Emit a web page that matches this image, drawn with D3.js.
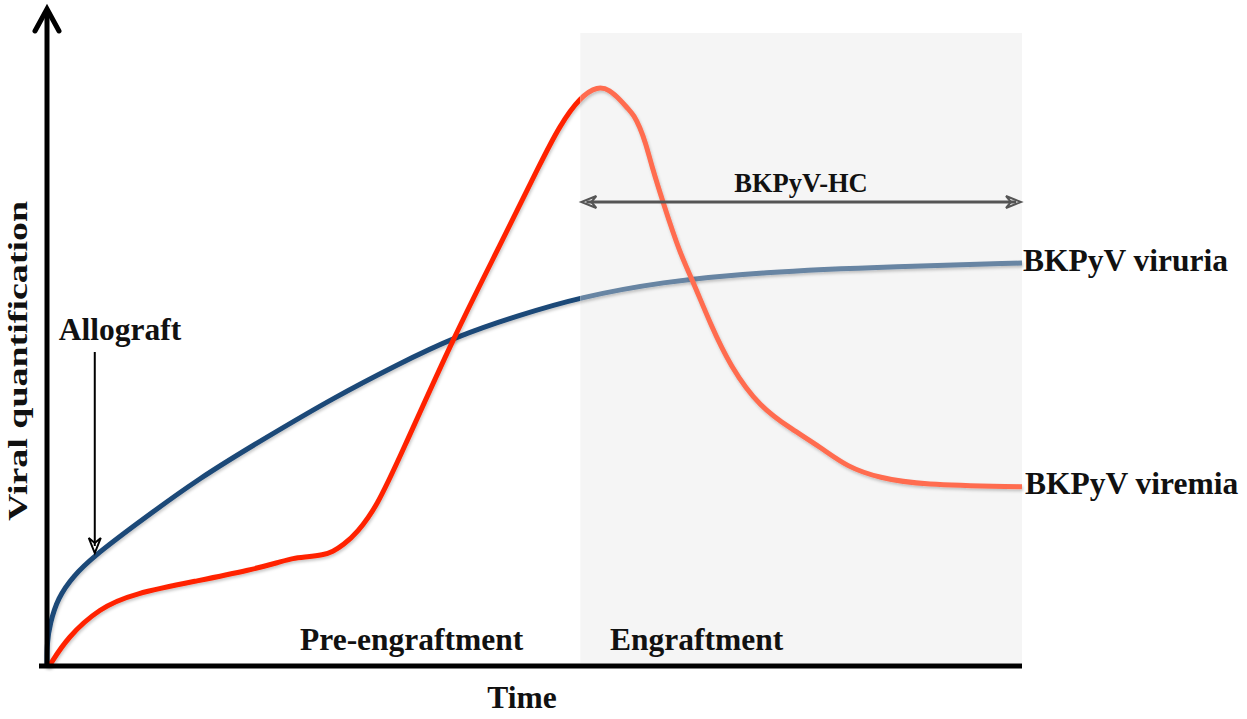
<!DOCTYPE html>
<html>
<head>
<meta charset="utf-8">
<script src="https://cdn.jsdelivr.net/npm/d3@7"></script>
<style>
  body { margin: 0; background: #fff; }
  text { font-family: "Liberation Serif", "Times New Roman", serif; font-weight: bold; fill: #111; }
</style>
</head>
<body>
<div id="chart"></div>
<script>

// phases on the time axis (time in % of the follow up)
var phase_names = ["Pre-engraftment", "Engraftment"]
var phase_bounds = [0, 54.7, 100]
var allograft_time = 4.9
var hc_label = "BKPyV-HC"

// BKPyV viruria (urine) curve
var viruria_time = [0, 0, 0.3, 1.1, 2.7, 4.8, 8.8, 15.7, 22.6, 29.3, 35.9, 41.8, 48.5, 54.7, 62.9, 73.1, 87.5, 100]
var viruria_level = [0, 3.5, 6.5, 10.6, 14.1, 17.2, 21.9, 29.7, 36.1, 42.2, 47.5, 51.9, 55.4, 58.2, 60.6, 62.2, 63.1, 63.6]

// BKPyV viremia (blood) curve
var viremia_time = [0.3, 2.1, 5.4, 8.8, 15.7, 20.8, 23.9, 25.2, 26.7, 28.3, 29.3, 30.4, 31.8, 33.8, 36.2,
                    41.8, 46.5, 50.6, 52.6, 54.7, 56.5, 57.7, 58.8, 59.6, 60.2, 60.8, 61.4, 62.0, 63.2,
                    64.9, 66.2, 68.0, 70.1, 73.1, 76.5, 79.3, 82.1, 85.4, 89.5, 100]
var viremia_level = [0, 4.4, 9.0, 11.3, 13.4, 15.0, 16.3, 16.9, 17.1, 17.4, 17.9, 19.0, 20.9, 25.0, 32.9,
                     52.2, 66.5, 79.4, 85.4, 89.9, 91.6, 91.0, 89.4, 88.0, 87.0, 85.1, 82.6, 79.1, 73.1,
                     65.2, 60.9, 54.1, 47.2, 40.8, 37.2, 34.5, 31.3, 29.6, 28.5, 28.2]

var series_names = ["BKPyV viruria", "BKPyV viremia"]


var width = 1247
var height = 719

var svg = d3.select("#chart").append("svg")
  .attr("width", width)
  .attr("height", height)

var x = d3.scaleLinear().domain([0, 100]).range([47, 1022])
var y = d3.scaleLinear().domain([0, 100]).range([665, 33])

var defs = svg.append("defs")

// soft shadow under the curves
var shadow = defs.append("filter")
  .attr("id", "shadow")
  .attr("x", "-5%").attr("y", "-5%")
  .attr("width", "110%").attr("height", "110%")
shadow.append("feDropShadow")
  .attr("dx", 1).attr("dy", 2)
  .attr("stdDeviation", 1.5)
  .attr("flood-color", "#000")
  .attr("flood-opacity", 0.22)

// clip paths for the part before / after engraftment
defs.append("clipPath").attr("id", "clip-pre")
  .append("rect")
  .attr("x", 0).attr("y", 0)
  .attr("width", x(phase_bounds[1])).attr("height", height)

defs.append("clipPath").attr("id", "clip-post")
  .append("rect")
  .attr("x", x(phase_bounds[1])).attr("y", 0)
  .attr("width", width - x(phase_bounds[1])).attr("height", height)


// shaded engraftment region
svg.append("rect")
  .attr("x", x(phase_bounds[1]))
  .attr("y", y(100))
  .attr("width", x(phase_bounds[2]) - x(phase_bounds[1]))
  .attr("height", y(0) - y(100) - 2)
  .style("fill", "#f5f5f5")


// draw one curve, strong before engraftment and faded after
function draw_curve(times, levels, color_pre, color_post){

  var pts = times.map(function(t, i){ return [t, levels[i]] })

  var line = d3.line()
    .x(function(d){ return x(d[0]) })
    .y(function(d){ return y(d[1]) })
    .curve(d3.curveBasis)

  svg.append("path")
    .datum(pts)
    .attr("d", line)
    .attr("clip-path", "url(#clip-pre)")
    .attr("filter", "url(#shadow)")
    .style("fill", "none")
    .style("stroke", color_pre)
    .style("stroke-width", 5)
    .style("stroke-linecap", "round")

  svg.append("path")
    .datum(pts)
    .attr("d", line)
    .attr("clip-path", "url(#clip-post)")
    .attr("filter", "url(#shadow)")
    .style("fill", "none")
    .style("stroke", color_post)
    .style("stroke-width", 5)
    .style("stroke-linecap", "butt")
}

draw_curve(viruria_time, viruria_level, "#1b4878", "#6885a3")
draw_curve(viremia_time, viremia_level, "#ff2400", "#ff6c50")


// open arrow head pointing in direction (dx, dy)
function arrow_head(px, py, dx, dy, color){
  var len = 15, half = 6, notch = 10
  var nx = -dy, ny = dx
  var p = [
    [px - dx * len + nx * half, py - dy * len + ny * half],
    [px, py],
    [px - dx * len - nx * half, py - dy * len - ny * half],
    [px - dx * notch, py - dy * notch]
  ]
  svg.append("path")
    .attr("d", "M" + p.map(function(d){ return d.join(",") }).join("L") + "Z")
    .style("fill", "#fff")
    .style("fill-opacity", 0)
    .style("stroke", color)
    .style("stroke-width", 2)
    .style("stroke-linejoin", "miter")
}


// axes
svg.append("line")
  .attr("x1", 39).attr("x2", x(100))
  .attr("y1", 666).attr("y2", 666)
  .style("stroke", "#000")
  .style("stroke-width", 5)

svg.append("line")
  .attr("x1", x(0)).attr("x2", x(0))
  .attr("y1", 668).attr("y2", 10)
  .style("stroke", "#000")
  .style("stroke-width", 5)

svg.append("path")
  .attr("d", "M" + (x(0) - 12) + ",31L" + x(0) + ",9L" + (x(0) + 12) + ",31")
  .style("fill", "none")
  .style("stroke", "#000")
  .style("stroke-width", 5)
  .style("stroke-linecap", "round")
  .style("stroke-linejoin", "miter")


// axis titles
svg.append("text")
  .attr("transform", "translate(27, 361) rotate(-90)")
  .attr("text-anchor", "middle")
  .attr("textLength", 320)
  .attr("lengthAdjust", "spacingAndGlyphs")
  .style("font-size", "27px")
  .text("Viral quantification")

svg.append("text")
  .attr("x", 522).attr("y", 708)
  .attr("text-anchor", "middle")
  .style("font-size", "31.5px")
  .text("Time")


// phase labels
svg.append("text")
  .attr("x", 300).attr("y", 650)
  .style("font-size", "31.5px")
  .text(phase_names[0])

svg.append("text")
  .attr("x", 610).attr("y", 650)
  .style("font-size", "31.5px")
  .text(phase_names[1])


// allograft marker
var allo_x = x(allograft_time)

svg.append("text")
  .attr("x", 120).attr("y", 340)
  .attr("text-anchor", "middle")
  .style("font-size", "31.5px")
  .text("Allograft")

svg.append("line")
  .attr("x1", allo_x).attr("x2", allo_x)
  .attr("y1", 352).attr("y2", 546)
  .style("stroke", "#000")
  .style("stroke-width", 2)

arrow_head(allo_x, 553, 0, 1, "#000")


// hemorrhagic cystitis interval
var hc_y = 202

svg.append("line")
  .attr("x1", x(phase_bounds[1]) + 6).attr("x2", x(phase_bounds[2]) - 6)
  .attr("y1", hc_y).attr("y2", hc_y)
  .style("stroke", "#555")
  .style("stroke-width", 3)

arrow_head(x(phase_bounds[1]) + 1, hc_y, -1, 0, "#555")
arrow_head(x(phase_bounds[2]) - 1, hc_y, 1, 0, "#555")

svg.append("text")
  .attr("x", 801).attr("y", 192)
  .attr("text-anchor", "middle")
  .style("font-size", "26.5px")
  .text(hc_label)


// series labels at the end of the curves
svg.append("text")
  .attr("x", 1023)
  .attr("y", y(viruria_level[viruria_level.length - 1]) + 8)
  .style("font-size", "31.5px")
  .text(series_names[0])

svg.append("text")
  .attr("x", 1025)
  .attr("y", y(viremia_level[viremia_level.length - 1]) + 7)
  .style("font-size", "31.5px")
  .text(series_names[1])

</script>
</body>
</html>
